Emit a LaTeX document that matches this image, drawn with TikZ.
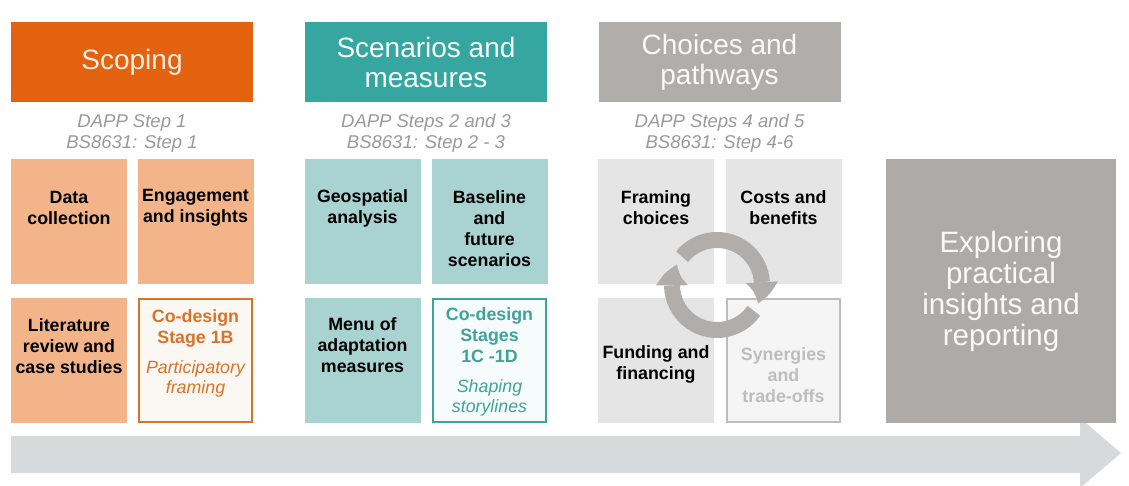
\documentclass[tikz,border=0pt]{standalone}
\usepackage{fontspec}
\setmainfont{Liberation Sans}
\usetikzlibrary{arrows.meta,bending}
\definecolor{orangeH}{HTML}{E2620F}
\definecolor{orangeL}{HTML}{F2B488}
\definecolor{orangeT}{HTML}{D9732A}
\definecolor{orangeF}{HTML}{FBF7F3}
\definecolor{tealH}{HTML}{35A6A0}
\definecolor{tealL}{HTML}{A8D3D1}
\definecolor{tealT}{HTML}{3FA39D}
\definecolor{tealF}{HTML}{F6FBFB}
\definecolor{grayH}{HTML}{B0AEAD}
\definecolor{grayL}{HTML}{E5E5E6}
\definecolor{grayB}{HTML}{BDBDBD}
\definecolor{grayF}{HTML}{F5F5F5}
\definecolor{grayT}{HTML}{BDBDBD}
\definecolor{grayX}{HTML}{ADABAA}
\definecolor{arrowC}{HTML}{D8D9DA}
\definecolor{cycC}{HTML}{B0AEAD}
\definecolor{subT}{HTML}{999999}
\tikzset{
  header/.style={rectangle, inner sep=0, minimum width=242, minimum height=80, align=center,
    font=\fontsize{28}{30}\selectfont},
  sub/.style={align=center, text=subT, inner sep=0, font=\fontsize{18.5}{21}\selectfont\itshape},
  cell/.style={rectangle, inner sep=0, minimum width=116, minimum height=125},
  ccell/.style={rectangle, inner sep=0, minimum width=113, minimum height=123, line width=2},
  btxt/.style={align=center, inner sep=0, font=\fontsize{17.8}{21}\selectfont\bfseries},
  itxt/.style={align=center, inner sep=0, font=\fontsize{17.8}{20}\selectfont\itshape},
  cyc/.style={draw=cycC, line width=16pt, -{Triangle[length=22pt,width=32pt,line width=0pt,bend]}},
}
\begin{document}
\begin{tikzpicture}[x=1pt,y=-1pt]
\useasboundingbox (0,0) rectangle (1129,486);
% big arrow
\coordinate (a1) at (11,436);
\coordinate (a2) at (1080,436);
\coordinate (a3) at (1080,418);
\coordinate (a4) at (1121,453);
\coordinate (a5) at (1080,488);
\coordinate (a6) at (1080,473);
\coordinate (a7) at (11,473);
\fill[arrowC] (a1) -- (a2) -- (a3) -- (a4) -- (a5) -- (a6) -- (a7) -- cycle;

% headers
\node[header, fill=orangeH, text={orangeL!25!white}] (h1) at (132,62) {Scoping};
\node[header, fill=tealH, text={tealF}] (h2) at (426,62) {Scenarios and\\measures};
\node[header, fill=grayH, text={white!95!gray}] (h3) at (719.5,62) {Choices and\\pathways};

% subtitles
\node[sub] (s1) at (132,133) {DAPP Step 1\\BS8631: Step 1};
\node[sub] (s2) at (426,133) {DAPP Steps 2 and 3\\BS8631: Step 2 - 3};
\node[sub] (s3) at (719.5,133) {DAPP Steps 4 and 5\\BS8631: Step 4-6};

% column 1
\node[cell, fill=orangeL] (c11) at (69,221.5) {};
\node[cell, fill=orangeL] (c12) at (195.5,221.5) {};
\node[cell, fill=orangeL] (c13) at (69,360.5) {};
\node[ccell, fill=orangeF, draw=orangeT] (c14) at (195.5,360.5) {};
\node[btxt] (t11) at (69,208) {Data\\collection};
\node[btxt] (t12) at (195.5,208) {Engagement\\and insights};
\node[btxt] (t13) at (69,346) {Literature\\review and\\case studies};
\node[btxt, text=orangeT] (t14) at (195.5,328) {Co-design\\Stage 1B};
\node[itxt, text=orangeT] (t14b) at (195.5,379) {Participatory\\framing};

% column 2
\node[cell, fill=tealL] (c21) at (362.5,221.5) {};
\node[cell, fill=tealL] (c22) at (489.5,221.5) {};
\node[cell, fill=tealL] (c23) at (362.5,360.5) {};
\node[ccell, fill=tealF, draw=tealT] (c24) at (489.5,360.5) {};
\node[btxt] (t21) at (362.5,208) {Geospatial\\analysis};
\node[btxt] (t22) at (489.5,229) {Baseline\\and\\future\\scenarios};
\node[btxt] (t23) at (362.5,345) {Menu of\\adaptation\\measures};
\node[btxt, text=tealT] (t24) at (489.5,335) {Co-design\\Stages\\1C -1D};
\node[itxt, text=tealT] (t24b) at (489.5,398) {Shaping\\storylines};

% column 3
\node[cell, fill=grayL] (c31) at (656,221.5) {};
\node[cell, fill=grayL] (c32) at (783.5,221.5) {};
\node[cell, fill=grayL] (c33) at (656,360.5) {};
\node[ccell, fill=grayF, draw=grayB] (c34) at (783.5,360.5) {};
\node[btxt] (t31) at (656,208) {Framing\\choices};
\node[btxt] (t32) at (783.5,208) {Costs and\\benefits};
\node[btxt] (t33) at (656,364) {Funding and\\financing};
\node[btxt, text=grayT] (t34) at (783.5,375) {Synergies\\and\\trade-offs};

% cycle arrows
\coordinate (C) at (717,285);
\draw[cyc] (C) ++(141:45pt) arc[start angle=141, end angle=-24, radius=45pt];
\draw[cyc] (C) ++(-35:45pt) arc[start angle=-35, end angle=-207, radius=45pt];

% final box
\node[rectangle, inner sep=0, minimum width=230, minimum height=264, fill=grayX] (ex) at (1001,291) {};
\node[align=center, inner sep=0, text={white!95!gray}, font=\fontsize{29.5}{31}\selectfont] (ext) at (1001,291) {Exploring\\practical\\insights and\\reporting};
\end{tikzpicture}
\end{document}
